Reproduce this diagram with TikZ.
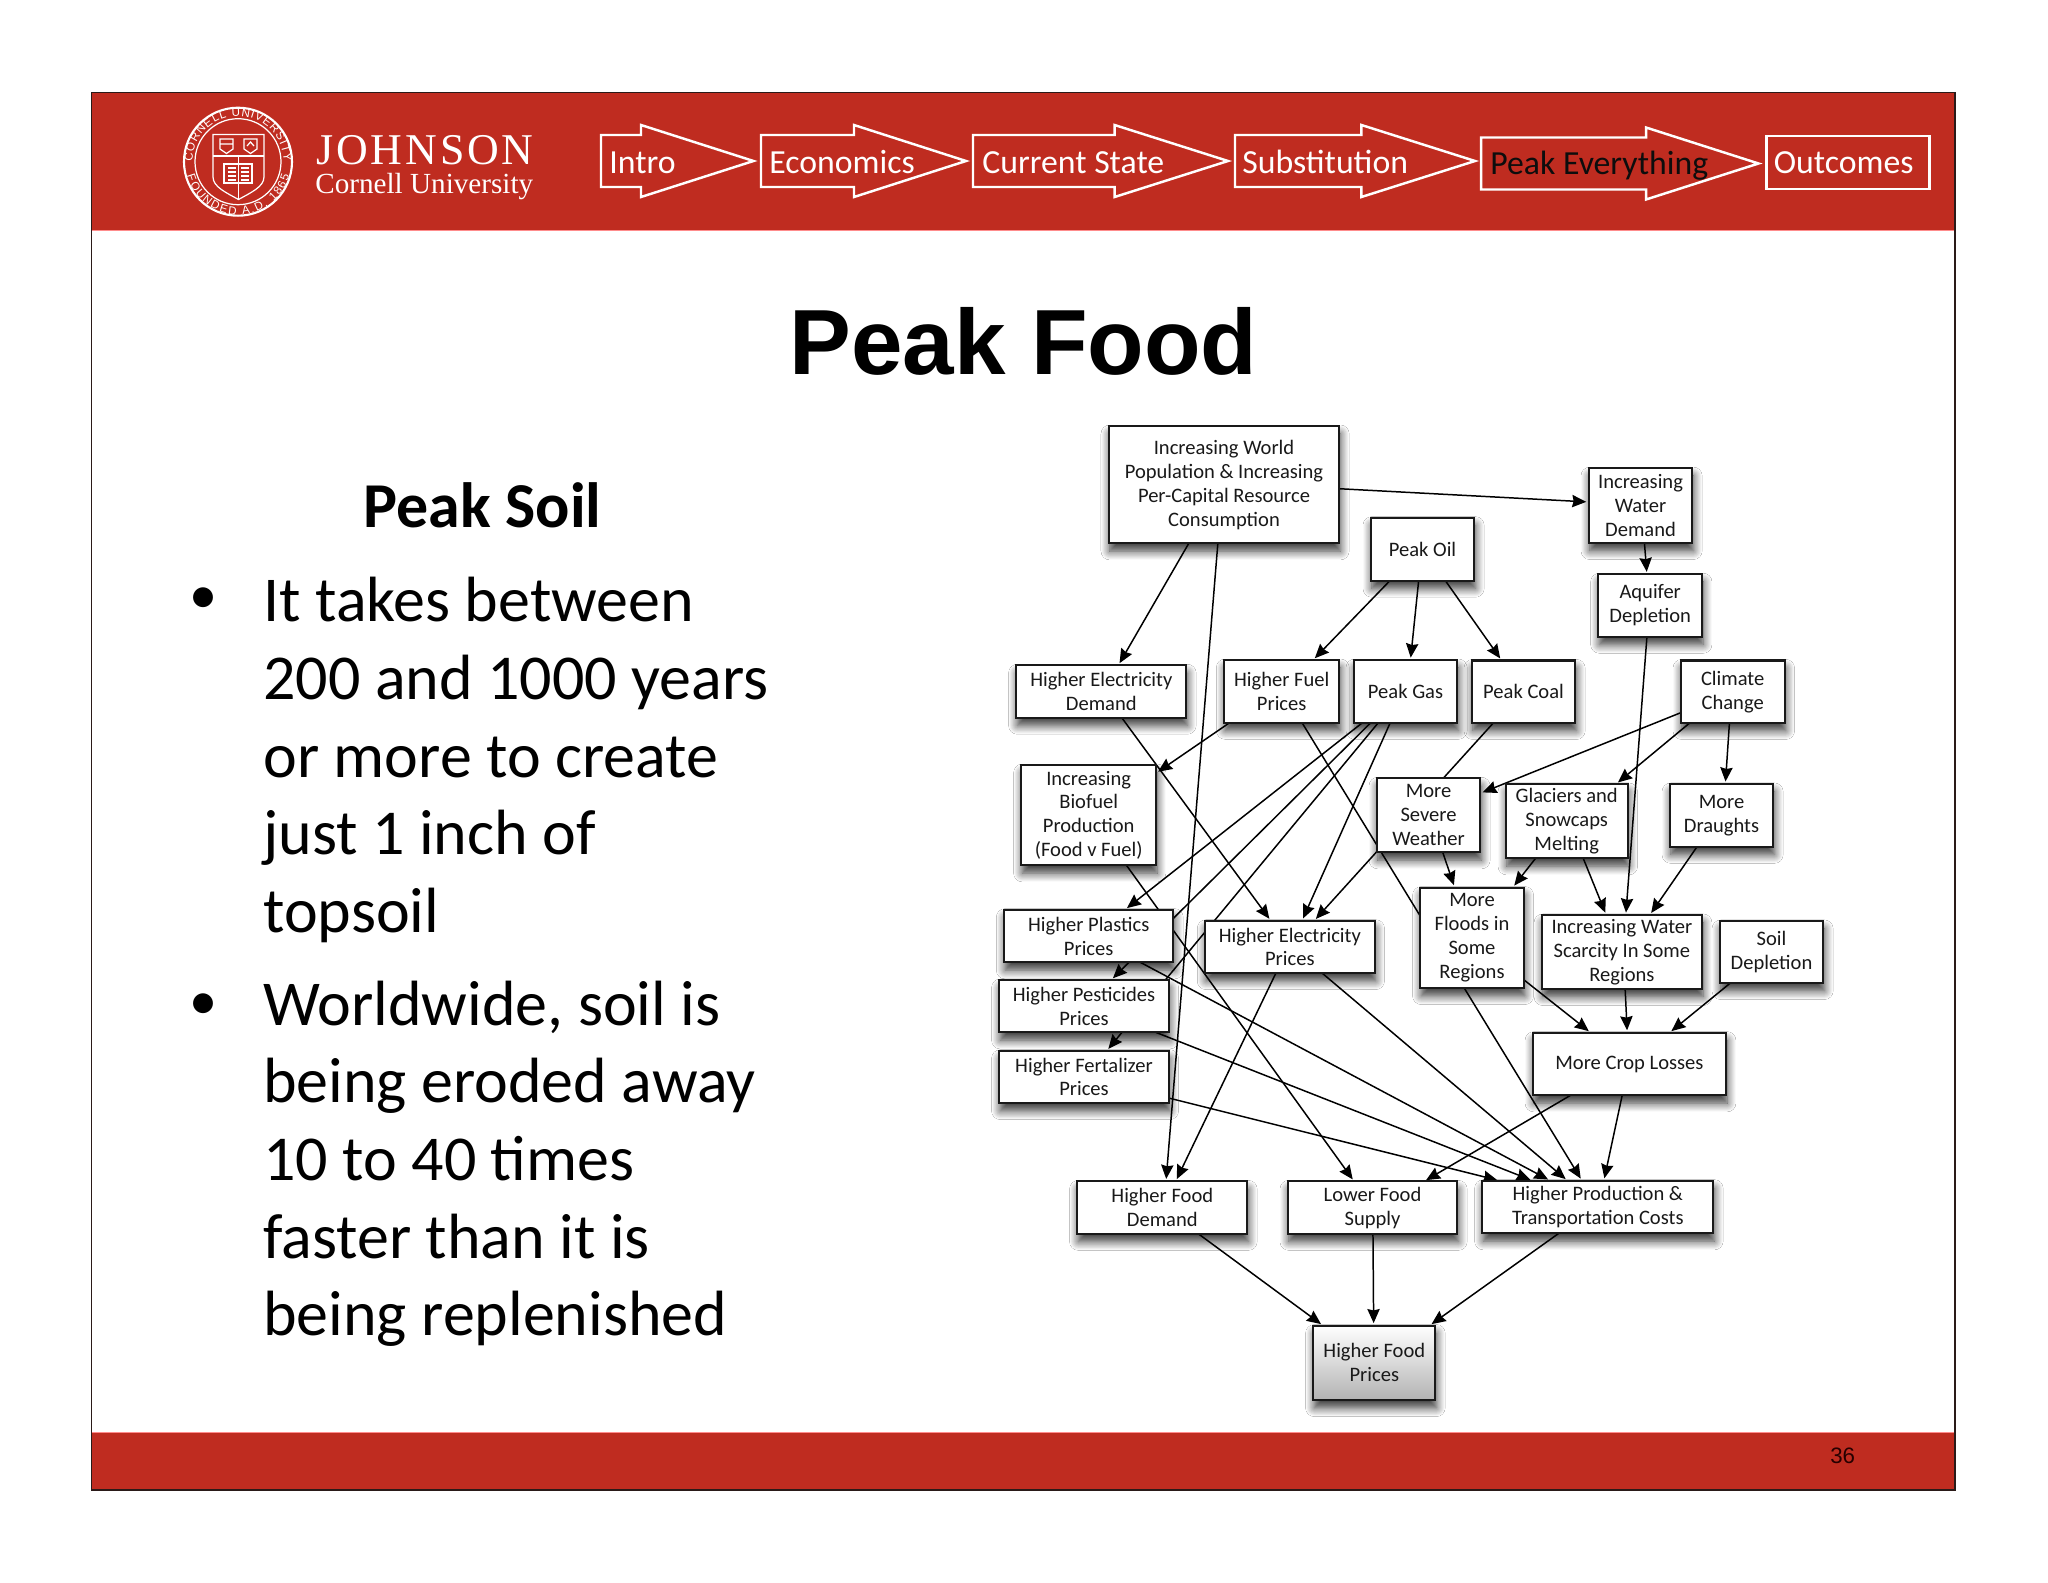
\documentclass[tikz,border=0pt]{standalone}
\usepackage{fontspec}
\usetikzlibrary{arrows.meta,backgrounds,calc,decorations.text,shadows.blur}
\setmainfont{Carlito}
\newfontfamily\arialfont{Liberation Sans}
\newfontfamily\timesfont{Liberation Serif}
\newfontfamily\johnsonfont[LetterSpace=6.5]{Liberation Serif}
\definecolor{slidered}{HTML}{BF2C20}
\definecolor{slideedge}{HTML}{2A1A18}
\newcommand{\navarrow}[4]{\draw[navline] (#1,#4-26) -- (#2,#4-26) -- (#2,#4-36) -- (#3,#4)
  -- (#2,#4+36) -- (#2,#4+26) -- (#1,#4+26) -- cycle;}
\newcommand{\sealfont}{\arialfont\fontsize{6.6}{7}\selectfont}
\tikzset{
  >={Stealth[length=8pt,width=7pt,inset=0.8pt]},
  flow/.style={->,line width=0.85pt,shorten >=1.4pt},
  navline/.style={draw=white,line width=1.4pt,line join=miter},
  navtext/.style={anchor=base west,inner sep=0pt,text=white,font=\fontsize{19.2}{23}\selectfont},
  sealline/.style={draw=white,line width=0.7pt},
  bigtext/.style={anchor=north west,inner sep=0pt,align=left,font=\fontsize{36.4}{44.2}\selectfont},
  foodbox/.style 2 args={draw=black!90,fill=white,line width=1.2pt,inner sep=0pt,outer sep=0pt,
    align=center,text=black!90,font=\fontsize{11.7}{13.6}\selectfont,
    minimum width=#1*0.02cm,minimum height=#2*0.02cm,
    blur shadow={shadow xshift=0.6pt,shadow yshift=-4.4pt,shadow blur radius=5pt,
      shadow blur steps=10,shadow opacity=80}}
}
\begin{document}
\begin{tikzpicture}[x=0.02cm,y=-0.02cm]
  \useasboundingbox (0,0) rectangle (2048,1582);

  \node[foodbox={230.6}{117.3}] (world) at (1224,484.7) {Increasing World\\Population \& Increasing\\Per-Capital Resource\\Consumption};
  \node[foodbox={103.6}{63}] (oil) at (1422.5,549.2) {Peak Oil};
  \node[foodbox={103.6}{74.8}] (waterdemand) at (1640.5,505.6) {Increasing\\Water\\Demand};
  \node[foodbox={103.7}{62.5}] (aquifer) at (1650.2,605.5) {Aquifer\\Depletion};
  \node[foodbox={170}{52.4}] (elecdemand) at (1101.3,691.5) {Higher Electricity\\Demand};
  \node[foodbox={115.3}{62.7}] (fuel) at (1281.7,691.4) {Higher Fuel\\Prices};
  \node[foodbox={103.6}{62.7}] (gas) at (1405.5,691.4) {Peak Gas};
  \node[foodbox={103.6}{62.5}] (coal) at (1523.5,691.7) {Peak Coal};
  \node[foodbox={104}{62.5}] (climate) at (1732.7,691.7) {Climate\\Change};
  \node[foodbox={134.7}{100.3}] (biofuel) at (1088.7,815.2) {Increasing\\Biofuel\\Production\\(Food v Fuel)};
  \node[foodbox={103.6}{74}] (severe) at (1428.5,815.3) {More\\Severe\\Weather};
  \node[foodbox={122}{74.4}] (glaciers) at (1566.7,821.2) {Glaciers and\\Snowcaps\\Melting};
  \node[foodbox={103.6}{62.8}] (draughts) at (1721.5,815.4) {More\\Draughts};
  \node[foodbox={169.3}{52.7}] (plastics) at (1088.7,936) {Higher Plastics\\Prices};
  \node[foodbox={169.7}{52.3}] (elecprices) at (1289.8,946.9) {Higher Electricity\\Prices};
  \node[foodbox={103.4}{100.5}] (floods) at (1472,937.8) {More\\Floods in\\Some\\Regions};
  \node[foodbox={160.3}{74}] (scarcity) at (1621.9,952) {Increasing Water\\Scarcity In Some\\Regions};
  \node[foodbox={103.6}{62}] (soildepl) at (1771.5,952) {Soil\\Depletion};
  \node[foodbox={169.4}{52.4}] (pesticides) at (1084,1006.2) {Higher Pesticides\\Prices};
  \node[foodbox={169.4}{52.3}] (fertalizer) at (1084,1076.9) {Higher Fertalizer\\Prices};
  \node[foodbox={193.3}{62.6}] (crops) at (1629.4,1064) {More Crop Losses};
  \node[foodbox={170}{52.4}] (fooddemand) at (1162.3,1207.6) {Higher Food\\Demand};
  \node[foodbox={169.6}{52.4}] (lowerfood) at (1372.5,1207.6) {Lower Food\\Supply};
  \node[foodbox={231}{52.6}] (production) at (1597.8,1207) {Higher Production \&\\Transportation Costs};
  \node[foodbox={122}{74.5},top color=white,bottom color=black!30] (prices) at (1374.3,1362.8) {Higher Food\\Prices};

  \begin{scope}[on background layer]
    \fill[white] (0,0) rectangle (2048,1582);
    \fill[slidered] (91.5,92.5) rectangle (1955,230);
    \fill[slidered] (91.5,1432.5) rectangle (1955,1490);
    \draw[red!45!white,line width=0.5pt] (91.5,230) -- (1955,230) (91.5,1432.5) -- (1955,1432.5);
    \draw[slideedge,line width=1.1pt] (91.5,92.5) rectangle (1955,1490);
    \draw[flow] (world.-2.8) -- (waterdemand.176.6);
    \draw[flow] (world.239.3) -- (elecdemand.57.8);
    \draw[flow] (world.264.9) -- (fooddemand.82.6);
    \draw[flow] (oil.224.7) -- (fuel.45.1);
    \draw[flow] (oil.263.1) -- (gas.81.8);
    \draw[flow] (oil.-54.1) -- (coal.125.8);
    \draw[flow] (waterdemand.-84.2) -- (aquifer.96);
    \draw[flow] (elecdemand.-52.6) -- (elecprices.126.4);
    \draw[flow] (fuel.211.8) -- (biofuel.32.7);
    \draw[flow] (fuel.-57.4) -- (production.121.3);
    \draw[flow] (coal.226.7) -- (elecprices.47.9);
    \draw[flow] (gas.216.6) -- (plastics.36.7);
    \draw[flow] (gas.222.8) -- (pesticides.44.3);
    \draw[flow] (gas.229) -- (fertalizer.49.3);
    \draw[flow] (gas.244.7) -- (elecprices.65.9);
    \draw[flow] (biofuel.-53.6) -- (lowerfood.125.9);
    \draw[flow] (plastics.-27.5) -- (production.151.7);
    \draw[flow] (pesticides.-20.7) -- (production.158.5);
    \draw[flow] (fertalizer.-14.6) -- (production.165.8);
    \draw[flow] (elecprices.-39.3) -- (production.139.5);
    \draw[flow] (elecprices.242.1) -- (fooddemand.63.3);
    \draw[flow] (crops.257.2) -- (production.77.8);
    \draw[flow] (crops.208.7) -- (lowerfood.27);
    \draw[flow] (severe.-69.5) -- (floods.109.7);
    \draw[flow] (glaciers.230.2) -- (floods.51.2);
    \draw[flow] (glaciers.-66.7) -- (scarcity.113.3);
    \draw[flow] (aquifer.264.7) -- (scarcity.84.4);
    \draw[flow] (draughts.232.8) -- (scarcity.53.8);
    \draw[flow] (climate.202.3) -- (severe.23.8);
    \draw[flow] (climate.216.9) -- (glaciers.37.6);
    \draw[flow] (climate.264.5) -- (draughts.83.6);
    \draw[flow] (scarcity.-85.7) -- (crops.94.4);
    \draw[flow] (soildepl.217.2) -- (crops.38.3);
    \draw[flow] (floods.-39.2) -- (crops.141.5);
    \draw[flow] (fooddemand.-36) -- (prices.144);
    \draw[flow] (lowerfood.-89) -- (prices.91);
    \draw[flow] (production.214.3) -- (prices.34.3);
  \end{scope}

  \coordinate (seal) at (238,161.7);
  \draw[sealline,line width=1.2pt] (seal) circle (54);
  \draw[sealline] (seal) circle (43);
  \path[decorate,decoration={text along path,text color=white,text align={fit to path},
    text={|\sealfont|CORNELL UNIVERSITY}}] ($(seal)+(-45.5,0)$) arc (180:360:45.5);
  \path[decorate,decoration={text along path,text color=white,text align={fit to path},
    text={|\sealfont|FOUNDED A.D. 1865}}] ($(seal)+(-51,14)$) arc (165:15:53);
  \draw[sealline] (213,134.5) -- (264,134.5) -- (264,177) .. controls (264,187) and (250,193) .. (238.5,199.5)
    .. controls (227,193) and (213,187) .. (213,177) -- cycle;
  \draw[sealline] (213,156) -- (264,156) (238.5,156) -- (238.5,199.5);
  \draw[sealline] (220,139) -- (233,139) -- (233,149) -- (226.5,153.5) -- (220,149) -- cycle
    (220,144) -- (233,144);
  \draw[sealline] (244,139) -- (257,139) -- (257,149) -- (250.5,153.5) -- (244,149) -- cycle
    (247,146) -- (250.5,142) -- (254,146);
  \draw[sealline] (224,164) -- (252,164) -- (252,183) -- (224,183) -- cycle
    (228,168) -- (236,168) (228,172) -- (236,172) (228,176) -- (236,176) (228,180) -- (236,180)
    (241,168) -- (249,168) (241,172) -- (249,172) (241,176) -- (249,176) (241,180) -- (249,180);
  \node[anchor=base west,inner sep=0pt,text=white,font=\johnsonfont\fontsize{25}{25}\selectfont] (johnson)
    at (316,164) {JOHNSON};
  \node[anchor=base west,inner sep=0pt,text=white,font=\timesfont\fontsize{16.6}{17}\selectfont] (cornell)
    at (315,193.5) {Cornell University};

  \navarrow{601}{641}{753.5}{161}
  \navarrow{761}{854}{966}{161}
  \navarrow{973}{1114.6}{1228}{161}
  \navarrow{1235}{1361.4}{1475}{161}
  \navarrow{1481}{1646}{1758.5}{163.5}
  \draw[navline] (1766.7,136) rectangle (1929.7,189);
  \node[navtext] (intro) at (609,173) {Intro};
  \node[navtext] (economics) at (769,173) {Economics};
  \node[navtext] (current) at (982,173) {Current State};
  \node[navtext] (substitution) at (1242,173) {Substitution};
  \node[navtext,text=black!95] (everything) at (1490,174) {Peak Everything};
  \node[navtext] (outcomes) at (1773.5,173) {Outcomes};

  \node[anchor=base,inner sep=0pt,font=\arialfont\bfseries\fontsize{52.7}{54}\selectfont] (title)
    at (1023.5,374) {Peak Food};
  \node[anchor=base,inner sep=0pt,font=\bfseries\fontsize{36.4}{44}\selectfont] (soil)
    at (482.6,527.3) {Peak Soil};
  \node[anchor=base,inner sep=0pt,font=\fontsize{32}{44}\selectfont] (bulletone) at (203,613.5) {•};
  \node[anchor=base,inner sep=0pt,font=\fontsize{32}{44}\selectfont] (bullettwo) at (203,1019.5) {•};
  \node[bigtext] (facta) at (263,577) {It takes between\\200 and 1000 years\\or more to create\\just 1 inch of\\topsoil};
  \node[bigtext] (factb) at (263,980.5) {Worldwide, soil is\\being eroded away\\10 to 40 times\\faster than it is\\being replenished};
  \node[anchor=base,inner sep=0pt,text=black!85!red,font=\arialfont\fontsize{12.7}{13}\selectfont] (pagenum)
    at (1842.7,1463.3) {36};
\end{tikzpicture}
\end{document}
